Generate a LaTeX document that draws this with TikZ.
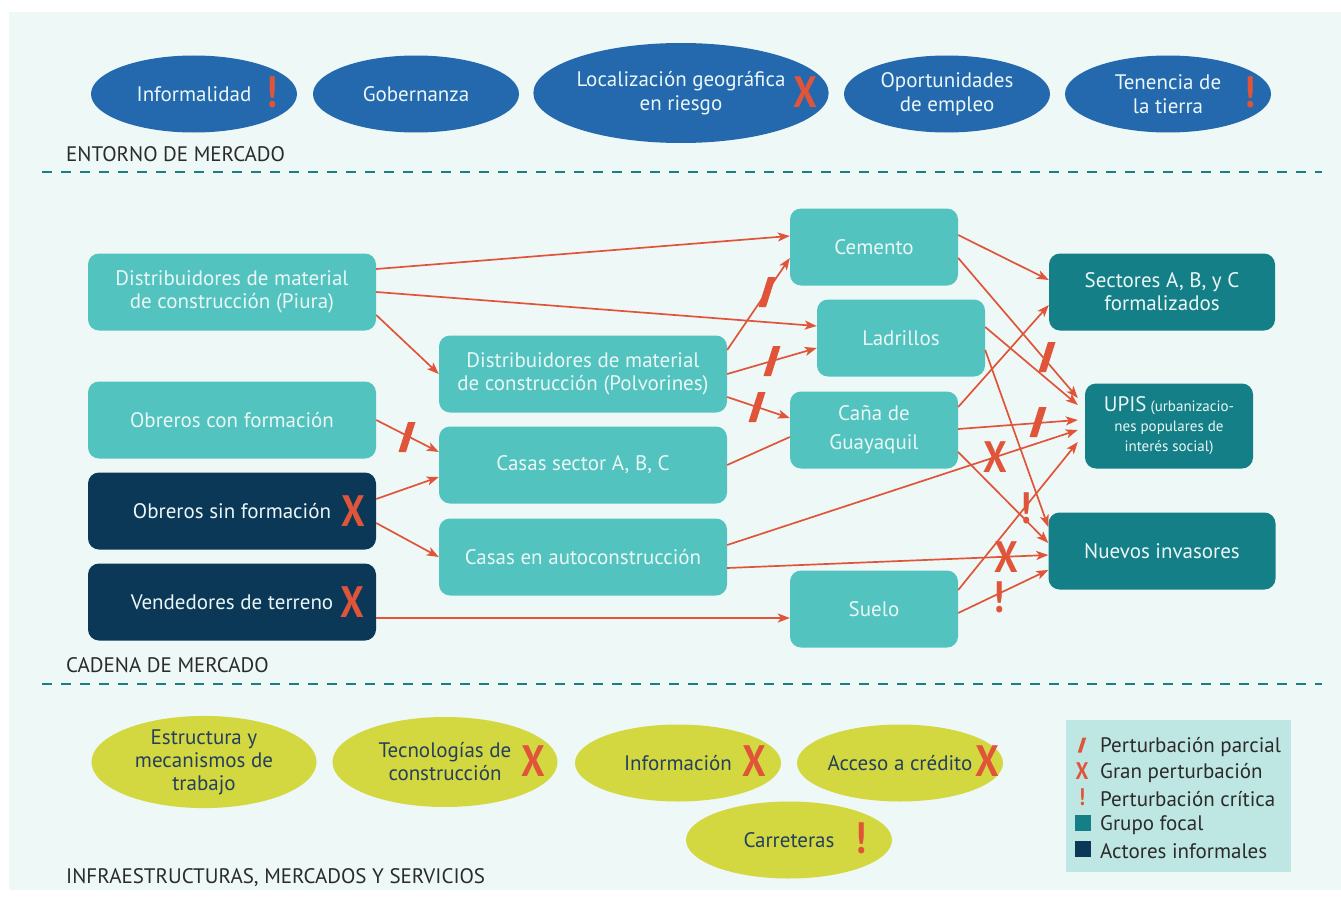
\documentclass[tikz,border=0pt]{standalone}
\usepackage{fontspec}
\setmainfont{PT Sans}
\newfontfamily\mkfont[FakeStretch=0.85]{PT Sans}
\usepackage{tikz}
\usetikzlibrary{arrows.meta, positioning, calc, shapes.geometric}

\definecolor{bgmint}{HTML}{EEF8F6}
\definecolor{envblue}{HTML}{2468AE}
\definecolor{chainlt}{HTML}{52C3BF}
\definecolor{focal}{HTML}{157F87}
\definecolor{informal}{HTML}{0C3858}
\definecolor{infra}{HTML}{D4D840}
\definecolor{arr}{HTML}{E0553A}
\definecolor{legbg}{HTML}{BEE6E3}
\definecolor{sepcol}{HTML}{1A7F86}
\definecolor{boxtxt}{HTML}{EAF7F6}
\definecolor{infratxt}{HTML}{24405E}
\definecolor{captxt}{HTML}{2B2B2B}

\begin{document}
\begin{tikzpicture}[
    >=Stealth,
    x=1pt, y=-1pt,
    env/.style={ellipse, fill=envblue, text=boxtxt, minimum width=206pt, minimum height=77pt, inner sep=0pt, align=center, font=\fontsize{21}{24}\selectfont},
    infr/.style={ellipse, fill=infra, text=infratxt, minimum width=206pt, minimum height=77pt, inner sep=0pt, align=center, font=\fontsize{21}{23}\selectfont},
    actor/.style={rectangle, rounded corners=11pt, fill=chainlt, text=boxtxt, minimum width=288pt, minimum height=77pt, align=center, font=\fontsize{21}{23}\selectfont},
    mat/.style={actor, minimum width=168pt},
    focalbox/.style={actor, fill=focal, minimum width=226pt},
    informalbox/.style={actor, fill=informal},
    seclbl/.style={anchor=west, inner xsep=0pt, text=captxt, font=\fontsize{21}{22}\selectfont},
    mk/.style={text=arr, inner sep=0pt, font=\mkfont\bfseries\fontsize{44}{44}\selectfont},
    lgmk/.style={text=arr, inner sep=0pt, font=\mkfont\bfseries\fontsize{24}{24}\selectfont},
    lgtxt/.style={anchor=west, inner xsep=0pt, text=captxt, font=\fontsize{21}{22}\selectfont},
    sq/.style={minimum size=16pt, inner sep=0pt},
    slashmk/.pic={\fill[arr] (1,-15) -- (8.5,-15) -- (-1,15) -- (-8.5,15) -- cycle;},
    flow/.style={-{Stealth[length=12pt, width=9pt, inset=3pt]}, draw=arr, line width=1.7pt},
    link/.style={draw=arr, line width=1.7pt},
    sep/.style={draw=sepcol, line width=2.2pt, dash pattern=on 10pt off 9pt},
  ]
    % ===== fondo =====
    \path[use as bounding box, fill=white] (0,0) rectangle (1341,899);
    \fill[bgmint] (9,12) rectangle (1341,890);

    % ===== ENTORNO DE MERCADO (fila superior) =====
    \node[env] (inf)  at (194,  94) {Informalidad};
    \node[env] (gob)  at (416,  94) {Gobernanza};
    \node[env, minimum width=291pt, minimum height=100pt] (loc) at (681, 93) {Localización geográfica\\en riesgo};
    \node[env] (opo)  at (947,  94) {Oportunidades\\de empleo};
    \node[env] (ten)  at (1168, 94) {Tenencia de\\la tierra};
    \node[mk] (infM) at (272,  92) {!};
    \node[mk] (locM) at (805,  92) {X};
    \node[mk] (tenM) at (1250, 92) {!};
    \node[seclbl] (capEnt) at (66, 154) {ENTORNO DE MERCADO};
    \coordinate (sep1L) at (42,  172);
    \coordinate (sep1R) at (1322,172);
    \draw[sep] (sep1L) -- (sep1R);

    % ===== CADENA DE MERCADO: actores (columna izquierda) =====
    \node[actor]       (piura) at (232, 292) {Distribuidores de material\\de construcción (Piura)};
    \node[actor]       (conf)  at (232, 420) {Obreros con formación};
    \node[informalbox] (sinf)  at (232, 511) {Obreros sin formación};
    \node[informalbox] (vend)  at (232, 602) {Vendedores de terreno};
    \node[mk] (sinfM) at (353, 511) {X};
    \node[mk] (vendM) at (352, 602) {X};
    % ===== columna central =====
    \node[actor] (polv) at (583, 374) {Distribuidores de material\\de construcción (Polvorines)};
    \node[actor] (cabc) at (583, 465) {Casas sector A, B, C};
    \node[actor] (auto) at (583, 557) {Casas en autoconstrucción};
    % ===== materiales =====
    \node[mat] (cem)   at (874, 247) {Cemento};
    \node[mat] (lad)   at (901, 338) {Ladrillos};
    \node[mat] (cana)  at (874, 430) {Caña de\\[6pt]Guayaquil};
    \node[mat] (suelo) at (874, 609) {Suelo};
    % ===== grupos focales (derecha) =====
    \node[focalbox] (sect) at (1162, 292) {Sectores A, B, y C\\formalizados};
    \node[focalbox, minimum width=168pt, minimum height=85pt, font=\fontsize{15}{20}\selectfont] (upis) at (1169, 426)
      {{\fontsize{21}{20}\selectfont UPIS} (urbanizacio-\\nes populares de\\interés social)};
    \node[focalbox, minimum width=227pt] (nuev) at (1162, 551) {Nuevos invasores};
    \node[seclbl] (capCad) at (66, 665) {CADENA DE MERCADO};

    % ===== flujos =====
    \draw[flow] ([yshift=23pt]piura.east) -- ([yshift=11pt]cem.west);
    \draw[flow] (piura.east) -- ([yshift=12pt]lad.west);
    \draw[flow] ([yshift=-23pt]piura.east) -- (polv.west);
    \draw[flow] ([yshift=24pt]polv.east) -- ([yshift=-11pt]cem.west);
    \draw[flow] (polv.east) -- ([yshift=-10pt]lad.west);
    \draw[flow] ([yshift=-23pt]polv.east) -- ([yshift=12pt]cana.west);
    \draw[flow] (conf.east) -- ([yshift=13pt]cabc.west);
    \draw[flow] ([yshift=12pt]sinf.east) -- ([yshift=-12pt]cabc.west);
    \draw[flow] ([yshift=-12pt]sinf.east) -- (auto.west);
    \draw[link] (cabc.east) -- ([yshift=-7pt]cana.west);            % sin punta
    \draw[flow] ([yshift=12pt]auto.east) -- ([xshift=-7pt,yshift=-4pt]upis.west);
    \draw[flow] ([yshift=-11pt]auto.east) -- ([yshift=-4pt]nuev.west);
    \draw[flow] ([yshift=-16pt]vend.east) -- ([yshift=-9pt]suelo.west);
    % ===== materiales -> grupos =====
    \draw[flow] ([yshift=12pt]cem.east) -- ([yshift=12pt]sect.west);
    \draw[flow] ([yshift=-11pt]cem.east) -- ([xshift=-7pt,yshift=28pt]upis.west);
    \draw[flow] ([yshift=11pt]lad.east) -- ([xshift=-7pt,yshift=21pt]upis.west);
    \draw[flow] ([yshift=-12pt]lad.east) -- ([yshift=24pt]nuev.west);
    \draw[flow] ([yshift=23pt]cana.east) -- ([yshift=-13pt]sect.west);
    \draw[flow] ([yshift=1pt]cana.east) -- ([xshift=-7pt,yshift=6pt]upis.west);
    \draw[flow] ([yshift=-22pt]cana.east) -- ([yshift=8pt]nuev.west);
    \draw[flow] ([yshift=19pt]suelo.east) -- ([xshift=-7pt,yshift=-16pt]upis.west);
    \draw[flow] ([yshift=-4pt]suelo.east) -- ([yshift=-19pt]nuev.west);

    % ===== perturbaciones sobre los flujos =====
    \pic at (767, 292) {slashmk};
    \pic at (772, 361) {slashmk};
    \pic at (757, 407) {slashmk};
    \pic at (407, 437) {slashmk};
    \pic at (1047,357) {slashmk};
    \pic at (1038,422) {slashmk};
    \node[mk] (xUp)  at (995, 457) {X};
    \node[mk] (xNv)  at (1006,557) {X};
    \node[mk] (bUp)  at (1026,508) {!};
    \node[mk] (bNv)  at (999, 597) {!};

    \coordinate (sep2L) at (42,  684);
    \coordinate (sep2R) at (1322,684);
    \draw[sep] (sep2L) -- (sep2R);

    % ===== INFRAESTRUCTURAS, MERCADOS Y SERVICIOS =====
    \node[infr, minimum width=225pt, minimum height=90pt] (est) at (204, 762) {Estructura y\\mecanismos de\\trabajo};
    \node[infr, minimum width=225pt, minimum height=90pt] (tec) at (445, 762) {Tecnologías de\\construcción};
    \node[infr] (info) at (678, 763) {Información};
    \node[infr] (acc)  at (900, 763) {Acceso a crédito};
    \node[infr] (carr) at (789, 840) {Carreteras};
    \node[mk] (tecM)  at (533, 761) {X};
    \node[mk] (infoM) at (754, 761) {X};
    \node[mk] (accM)  at (987, 761) {X};
    \node[mk] (carrM) at (861, 838) {!};
    \node[seclbl] (capInf) at (66, 878) {INFRAESTRUCTURAS, MERCADOS Y SERVICIOS};

    % ===== leyenda =====
    \fill[legbg] (1066,720) rectangle (1291,872);
    \pic[scale=0.5] at (1082,745) {slashmk};
    \node[lgmk] (lgX) at (1082,771) {X};
    \node[lgmk] (lgB) at (1082,797) {!};
    \node[sq, fill=focal]    (lgF) at (1083,823) {};
    \node[sq, fill=informal] (lgI) at (1083,849) {};
    \node[lgtxt] at (1100,747) {Perturbación parcial};
    \node[lgtxt] at (1100,773) {Gran perturbación};
    \node[lgtxt] at (1100,799) {Perturbación crítica};
    \node[lgtxt] at (1100,825) {Grupo focal};
    \node[lgtxt] at (1100,851) {Actores informales};
  \end{tikzpicture}
\end{document}
